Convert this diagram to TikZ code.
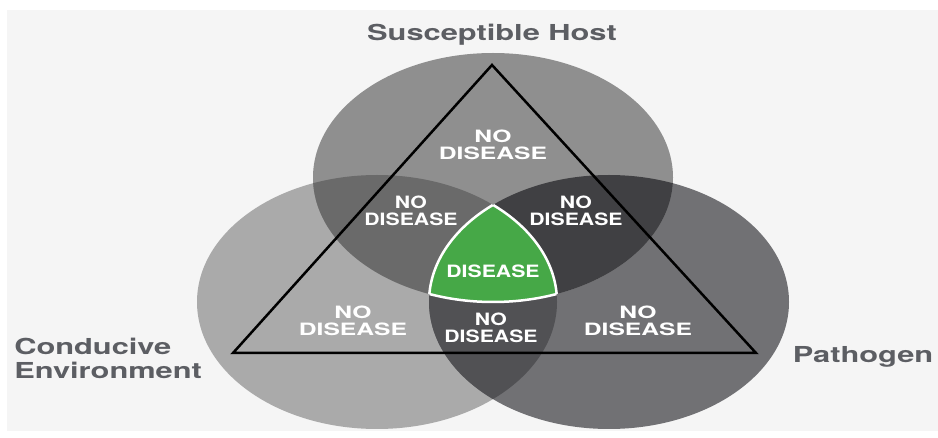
\documentclass[tikz,border=0pt]{standalone}
\usepackage{fontspec}
\setmainfont{TeX Gyre Heros}
\usepackage{xcolor}
\usepackage{tikz}
\definecolor{bgcol}{HTML}{F5F5F5}
\definecolor{hostcol}{HTML}{8F8F8F}
\definecolor{envcol}{HTML}{AAAAAA}
\definecolor{pathcol}{HTML}{717174}
\definecolor{hostenvcol}{HTML}{6A6A6A}
\definecolor{hostpathcol}{HTML}{404043}
\definecolor{envpathcol}{HTML}{515154}
\definecolor{diseasecol}{HTML}{46A847}
\definecolor{labelcol}{HTML}{5C5E63}
\newcommand{\hostellipse}{(493,177.5) ellipse [x radius=180, y radius=124.5]}
\newcommand{\envellipse}{(377,302) ellipse [x radius=180, y radius=127]}
\newcommand{\pathellipse}{(609,302) ellipse [x radius=180, y radius=127]}

\begin{document}
\begin{tikzpicture}[x=1pt, y=-1pt,
  nodis/.style={text=white, font=\fontsize{17}{17}\selectfont\bfseries, align=center, inner sep=0pt},
  outerlbl/.style={nodis, xscale=1.45},
  innerlbl/.style={nodis, xscale=1.25},
  factor/.style={text=labelcol, font=\fontsize{22}{24}\selectfont\bfseries, xscale=1.4, inner sep=0pt},
  rim/.style={white, line width=2.5pt}]
  \useasboundingbox (0,0) rectangle (938,438);
  \fill[bgcol] (7,10) rectangle (938,431);
  \fill[envcol] \envellipse;
  \fill[pathcol] \pathellipse;
  \fill[hostcol] \hostellipse;
  \begin{scope}
    \clip \envellipse;
    \fill[envpathcol] \pathellipse;
  \end{scope}
  \begin{scope}
    \clip \envellipse;
    \fill[hostenvcol] \hostellipse;
  \end{scope}
  \begin{scope}
    \clip \pathellipse;
    \fill[hostpathcol] \hostellipse;
  \end{scope}
  \begin{scope}
    \clip \envellipse;
    \clip \pathellipse;
    \fill[diseasecol] \hostellipse;
    \draw[rim] \hostellipse;
  \end{scope}
  \begin{scope}
    \clip \hostellipse;
    \clip \envellipse;
    \draw[rim] \pathellipse;
  \end{scope}
  \begin{scope}
    \clip \hostellipse;
    \clip \pathellipse;
    \draw[rim] \envellipse;
  \end{scope}
  \coordinate (apex) at (492,65);
  \coordinate (baseW) at (233,353);
  \coordinate (baseE) at (756,353);
  \draw[black, line width=2.5pt, line join=miter] (apex) -- (baseW) -- (baseE) -- cycle;
  \node[outerlbl] (nohost) at (493,145) {NO\\DISEASE};
  \node[innerlbl] (nohostenv) at (411,211) {NO\\DISEASE};
  \node[innerlbl] (nohostpath) at (576,211) {NO\\DISEASE};
  \node[innerlbl] (disease) at (493,271) {DISEASE};
  \node[outerlbl] (noenv) at (353,321) {NO\\DISEASE};
  \node[innerlbl] (noenvpath) at (491,328) {NO\\DISEASE};
  \node[outerlbl] (nopath) at (638,321) {NO\\DISEASE};
  \node[factor] (host) at (492,35) {Susceptible Host};
  \node[factor, align=left, anchor=west] (env) at (14,358) {Conducive\\Environment};
  \node[factor] (pathogen) at (863,357) {Pathogen};
\end{tikzpicture}
\end{document}
